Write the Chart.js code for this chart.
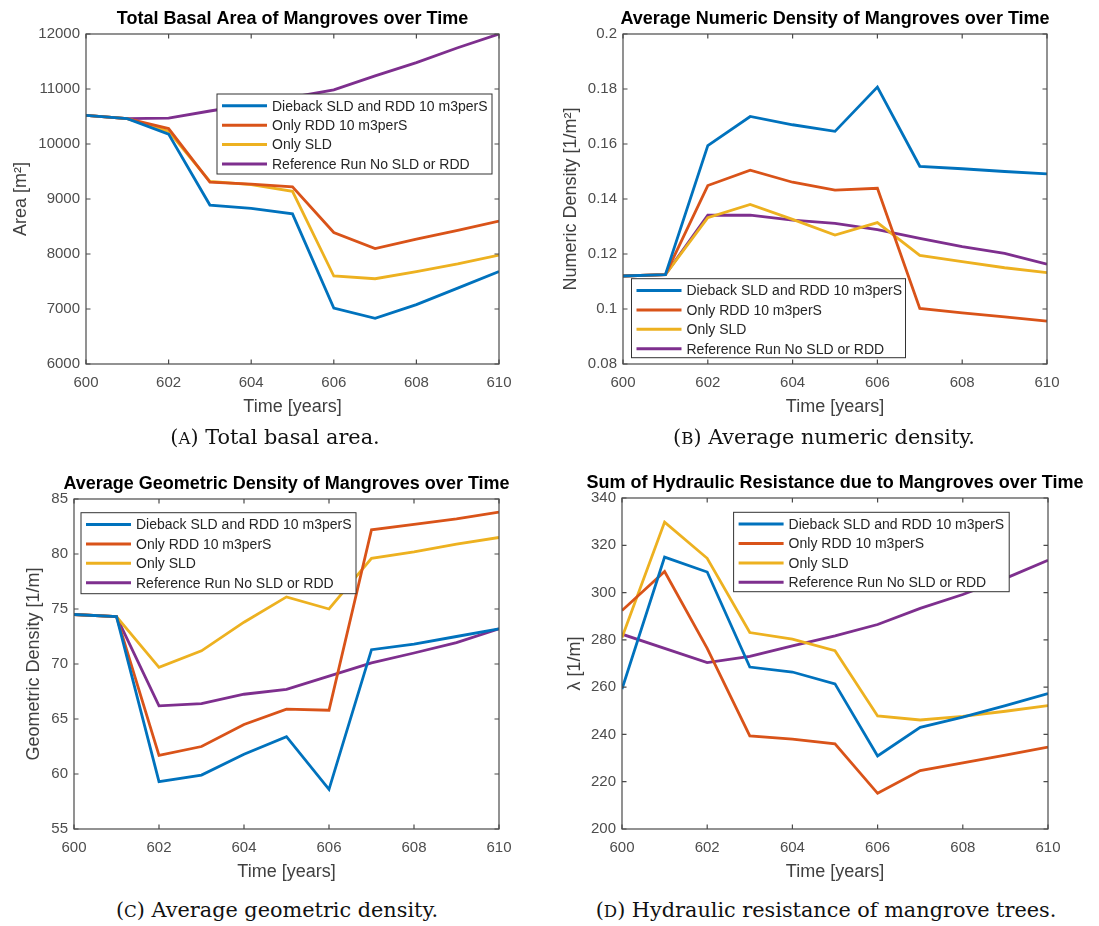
<!DOCTYPE html>
<html>
<head>
<meta charset="utf-8">
<script src="https://cdn.jsdelivr.net/npm/chart.js@4.4.1/dist/chart.umd.min.js"></script>
<style>
body { margin: 0; background: #fff; width: 1099px; height: 926px; position: relative; overflow: hidden; }
canvas { position: absolute; }
.cap { position: absolute; font-family: 'DejaVu Serif', 'Liberation Serif', serif; font-size: 20.8px; color: #111;
       text-align: center; white-space: nowrap; line-height: 28px; }
.sc { font-size: 80%; }
</style>
</head>
<body>
<canvas id="areaChart" width="550" height="425" style="left:0;top:0"></canvas>
<canvas id="numericChart" width="549" height="425" style="left:550px;top:0"></canvas>
<canvas id="geoChart" width="550" height="425" style="left:0;top:460px"></canvas>
<canvas id="lambdaChart" width="549" height="425" style="left:550px;top:460px"></canvas>

<div class="cap" style="left:0;width:550px;top:423px">(<span class="sc">A</span>) Total basal area.</div>
<div class="cap" style="left:549px;width:550px;top:423px">(<span class="sc">B</span>) Average numeric density.</div>
<div class="cap" style="left:2px;width:550px;top:896px">(<span class="sc">C</span>) Average geometric density.</div>
<div class="cap" style="left:551px;width:550px;top:896px">(<span class="sc">D</span>) Hydraulic resistance of mangrove trees.</div>

<script>
// model output, one value per year
var years = [600, 601, 602, 603, 604, 605, 606, 607, 608, 609, 610];
var runNames = ['Dieback SLD and RDD 10 m3perS', 'Only RDD 10 m3perS', 'Only SLD', 'Reference Run No SLD or RDD'];
var runColors = ['#0072BD', '#D95319', '#EDB120', '#7E2F8E'];

var areaDieback = [10520, 10460, 10180, 8890, 8830, 8730, 7015, 6830, 7080, 7380, 7680];
var areaRdd     = [10520, 10460, 10280, 9305, 9270, 9220, 8390, 8100, 8270, 8430, 8600];
var areaSld     = [10520, 10460, 10230, 9320, 9260, 9140, 7600, 7550, 7680, 7820, 7980];
var areaRef     = [10520, 10460, 10470, 10600, 10720, 10850, 10985, 11240, 11480, 11750, 12000];

var ndDieback = [0.112, 0.1125, 0.1594, 0.1700, 0.1670, 0.1646, 0.1807, 0.1519, 0.1510, 0.1500, 0.1491];
var ndRdd     = [0.112, 0.1125, 0.1449, 0.1505, 0.1461, 0.1432, 0.1439, 0.1002, 0.0986, 0.0971, 0.0956];
var ndSld     = [0.112, 0.1125, 0.1332, 0.1380, 0.1326, 0.1269, 0.1314, 0.1195, 0.1172, 0.1150, 0.1132];
var ndRef     = [0.112, 0.1125, 0.1341, 0.1341, 0.1323, 0.1311, 0.1289, 0.1257, 0.1227, 0.1202, 0.1163];

var gdDieback = [74.5, 74.3, 59.3, 59.9, 61.8, 63.4, 58.6, 71.3, 71.8, 72.5, 73.2];
var gdRdd     = [74.5, 74.3, 61.7, 62.5, 64.5, 65.9, 65.8, 82.2, 82.7, 83.2, 83.8];
var gdSld     = [74.5, 74.3, 69.7, 71.2, 73.8, 76.1, 75.0, 79.6, 80.2, 80.9, 81.5];
var gdRef     = [74.5, 74.3, 66.2, 66.4, 67.25, 67.7, 68.9, 70.1, 71.0, 71.95, 73.2];

var lamDieback = [259.2, 315.0, 308.7, 268.5, 266.4, 261.4, 230.9, 243.0, 247.3, 252.2, 257.3];
var lamRdd     = [292.4, 308.9, 276.4, 239.4, 238.0, 236.0, 215.1, 224.7, 228.0, 231.2, 234.6];
var lamSld     = [281.0, 329.8, 314.5, 283.1, 280.3, 275.4, 247.8, 246.1, 247.6, 249.8, 252.2];
var lamRef     = [282.4, 276.4, 270.4, 273.0, 277.5, 281.7, 286.5, 293.3, 299.2, 306.0, 313.7];

Chart.defaults.font.family = "'Liberation Sans', Arial, Helvetica, sans-serif";
Chart.defaults.color = '#444';

var TICK_LEN = 4.5;

// matlab style box with inward ticks on all four sides
var frameTicks = {
    id: 'frameTicks',
    afterDatasetsDraw: function(chart) {
        var a = chart.chartArea, ctx = chart.ctx;
        var xs = chart.scales.x, ys = chart.scales.y;
        ctx.save();
        ctx.strokeStyle = '#4a4a4a';
        ctx.lineWidth = 1.2;
        ctx.strokeRect(a.left, a.top, a.right - a.left, a.bottom - a.top);
        ctx.beginPath();
        xs.ticks.forEach(function(t) {
            var px = xs.getPixelForValue(t.value);
            ctx.moveTo(px, a.bottom); ctx.lineTo(px, a.bottom - TICK_LEN);
            ctx.moveTo(px, a.top); ctx.lineTo(px, a.top + TICK_LEN);
        });
        ys.ticks.forEach(function(t) {
            var py = ys.getPixelForValue(t.value);
            ctx.moveTo(a.left, py); ctx.lineTo(a.left + TICK_LEN, py);
            ctx.moveTo(a.right, py); ctx.lineTo(a.right - TICK_LEN, py);
        });
        ctx.stroke();
        ctx.restore();
    }
};

var plotTitle = {
    id: 'plotTitle',
    afterDraw: function(chart, args, opts) {
        var a = chart.chartArea, ctx = chart.ctx;
        ctx.save();
        ctx.font = 'bold 18px ' + Chart.defaults.font.family;
        ctx.fillStyle = '#000';
        ctx.textAlign = 'center';
        ctx.textBaseline = 'middle';
        ctx.fillText(opts.text, (a.left + a.right) / 2, a.top - 15);
        ctx.restore();
    }
};

// legend box placed inside the axes
var boxLegend = {
    id: 'boxLegend',
    afterDraw: function(chart, args, opts) {
        var ctx = chart.ctx;
        ctx.save();
        ctx.fillStyle = '#fff';
        ctx.fillRect(opts.x, opts.y, opts.w, opts.h);
        ctx.strokeStyle = '#333';
        ctx.lineWidth = 1;
        ctx.strokeRect(opts.x, opts.y, opts.w, opts.h);
        ctx.font = '14px ' + Chart.defaults.font.family;
        ctx.textBaseline = 'middle';
        ctx.textAlign = 'left';
        chart.data.datasets.forEach(function(ds, i) {
            var cy = opts.y + 11.8 + i * 19.4;
            ctx.strokeStyle = ds.borderColor;
            ctx.lineWidth = 3;
            ctx.beginPath();
            ctx.moveTo(opts.x + 5, cy);
            ctx.lineTo(opts.x + 50, cy);
            ctx.stroke();
            ctx.fillStyle = '#262626';
            ctx.fillText(ds.label, opts.x + 55, cy + 1);
        });
        ctx.restore();
    }
};

function series(i, vals) {
    return {
        label: runNames[i],
        borderColor: runColors[i],
        backgroundColor: runColors[i],
        borderWidth: 2.8,
        pointRadius: 0,
        tension: 0,
        fill: false,
        data: years.map(function(y, k) { return {x: y, y: vals[k]}; })
    };
}

function tickText(v) {
    return String(+v.toFixed(2));
}

function makeChart(id, cfg) {
    var ctx = document.getElementById(id).getContext('2d');
    return new Chart(ctx, {
        type: 'line',
        data: {datasets: cfg.sets.map(function(v, i) { return series(i, v); })},
        plugins: [frameTicks, plotTitle, boxLegend],
        options: {
            responsive: false,
            animation: false,
            layout: {padding: cfg.pad},
            plugins: {
                legend: {display: false},
                tooltip: {enabled: false},
                plotTitle: {text: cfg.title},
                boxLegend: cfg.legend
            },
            scales: {
                x: {
                    type: 'linear', min: 600, max: 610,
                    grid: {display: false, drawTicks: false},
                    border: {display: false},
                    ticks: {stepSize: 2, padding: 10, color: '#4d4d4d', font: {size: 15}, callback: tickText},
                    title: {display: true, text: 'Time [years]', color: '#404040', font: {size: 18}, padding: 0},
                    afterFit: function(s) { s.height = 54; }
                },
                y: {
                    min: cfg.ymin, max: cfg.ymax,
                    grid: {display: false, drawTicks: false},
                    border: {display: false},
                    ticks: {stepSize: cfg.ystep, padding: 6, color: '#4d4d4d', font: {size: 15}, callback: tickText},
                    title: {display: true, text: cfg.ytitle, color: '#404040', font: {size: 18}, padding: 0},
                    afterFit: function(s) { s.width = cfg.yw; }
                }
            }
        }
    });
}

makeChart('areaChart', {
    title: 'Total Basal Area of Mangroves over Time',
    ytitle: 'Area [m\u00B2]',
    sets: [areaDieback, areaRdd, areaSld, areaRef],
    ymin: 6000, ymax: 12000, ystep: 1000,
    pad: {left: 10, right: 51, top: 34, bottom: 7}, yw: 76,
    legend: {x: 217, y: 94, w: 275, h: 80}
});

makeChart('numericChart', {
    title: 'Average Numeric Density of Mangroves over Time',
    ytitle: 'Numeric Density [1/m\u00B2]',
    sets: [ndDieback, ndRdd, ndSld, ndRef],
    ymin: 0.08, ymax: 0.2, ystep: 0.02,
    pad: {left: 10, right: 52, top: 34, bottom: 7}, yw: 63,
    legend: {x: 81.5, y: 278.7, w: 274, h: 79}
});

makeChart('geoChart', {
    title: 'Average Geometric Density of Mangroves over Time',
    ytitle: 'Geometric Density [1/m]',
    sets: [gdDieback, gdRdd, gdSld, gdRef],
    ymin: 55, ymax: 85, ystep: 5,
    pad: {left: 23, right: 51, top: 39, bottom: 2}, yw: 51,
    legend: {x: 81, y: 52.7, w: 275, h: 81}
});

makeChart('lambdaChart', {
    title: 'Sum of Hydraulic Resistance due to Mangroves over Time',
    ytitle: '\u03BB [1/m]',
    sets: [lamDieback, lamRdd, lamSld, lamRef],
    ymin: 200, ymax: 340, ystep: 20,
    pad: {left: 14, right: 51, top: 38, bottom: 2}, yw: 58,
    legend: {x: 183.6, y: 52.3, w: 275.6, h: 79.4}
});
</script>
</body>
</html>
